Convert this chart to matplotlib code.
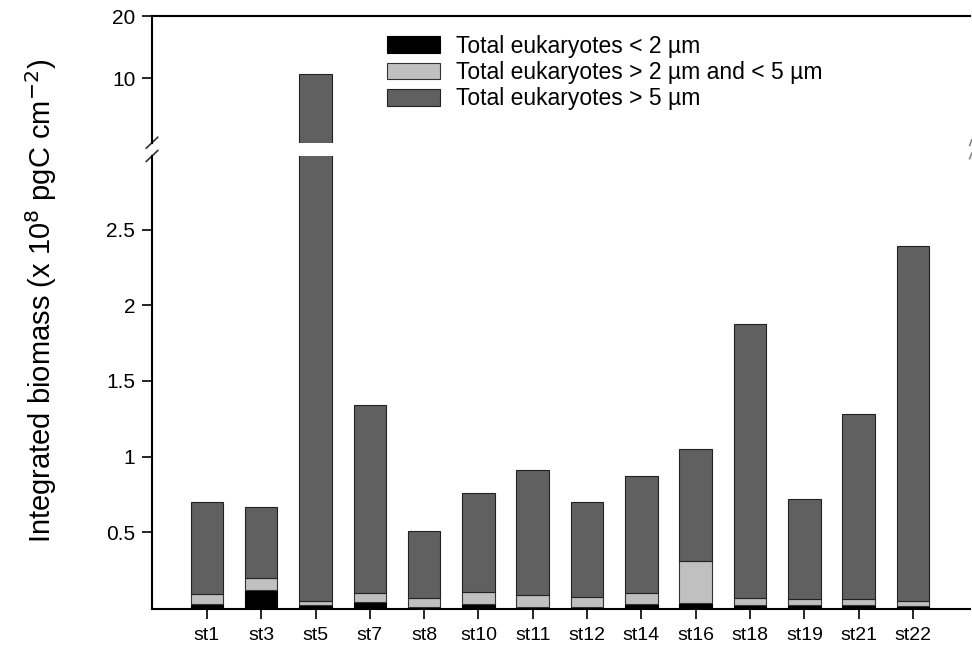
import matplotlib
matplotlib.use('Agg')
from matplotlib import pyplot as plt
from matplotlib.ticker import NullLocator
import numpy as np

plt.rcParams['font.family'] = ['Liberation Sans', 'DejaVu Sans']

stations = ['st1', 'st3', 'st5', 'st7', 'st8', 'st10', 'st11', 'st12',
            'st14', 'st16', 'st18', 'st19', 'st21', 'st22']
# biomass (x 10^8 pgC cm-2) per size class
small = [0.025, 0.12, 0.02, 0.04, 0.005, 0.025, 0.005, 0.005,
         0.025, 0.03, 0.02, 0.02, 0.02, 0.01]          # < 2 um
middle = [0.067, 0.08, 0.025, 0.06, 0.063, 0.08, 0.081, 0.068,
          0.073, 0.28, 0.045, 0.04, 0.04, 0.038]       # 2 - 5 um
large = [0.608, 0.47, 10.405, 1.24, 0.442, 0.655, 0.824, 0.627,
         0.772, 0.74, 1.81, 0.66, 1.22, 2.342]         # > 5 um

labels = ['Total eukaryotes < 2 \u00b5m',
          'Total eukaryotes > 2 \u00b5m and < 5 \u00b5m',
          'Total eukaryotes > 5 \u00b5m']
colors = ['#000000', '#c0c0c0', '#606060']

fig = plt.figure(figsize=(9.72, 6.57), dpi=100)
ax_low = fig.add_axes([0.1564, 0.0731, 0.8416, 0.6895])
ax_up = fig.add_axes([0.1564, 0.7828, 0.8416, 0.1928])

x = np.arange(len(stations))
small = np.array(small)
middle = np.array(middle)
large = np.array(large)

bars = []
for ax in (ax_low, ax_up):
    b1 = ax.bar(x, small, 0.6, color=colors[0], edgecolor='black', linewidth=0.8)
    b2 = ax.bar(x, middle, 0.6, bottom=small, color=colors[1], edgecolor='#333333', linewidth=0.8)
    b3 = ax.bar(x, large, 0.6, bottom=small + middle, color=colors[2], edgecolor='#222222', linewidth=0.8)
    bars = [b1, b2, b3]
    ax.set_xlim(-1.01, 14.05)
    ax.spines['right'].set_visible(False)
    ax.tick_params(direction='out', length=7, width=1.2, labelsize=15, pad=5)
    for s in ax.spines.values():
        s.set_linewidth(1.5)

ax_low.set_ylim(-0.007, 2.987)
ax_low.set_yticks([0.5, 1, 1.5, 2, 2.5])
ax_low.set_yticklabels(['0.5', '1', '1.5', '2', '2.5'])
ax_low.spines['top'].set_visible(False)
ax_low.set_xticks(x)
ax_low.set_xticklabels(stations, fontsize=14)
ax_low.tick_params(axis='x', pad=6)

# upper part of the broken axis uses a compressed (log) scale
ax_up.set_yscale('log')
ax_up.set_ylim(4.9, 20)
ax_up.set_yticks([10, 20])
ax_up.set_yticklabels(['10', '20'])
ax_up.yaxis.set_minor_locator(NullLocator())
ax_up.spines['bottom'].set_visible(False)
ax_up.set_xticks([])

# break marks on the left spine
for ax, h in ((ax_up, 0.043), (ax_low, 0.012)):
    yy = 0.0 if ax is ax_up else 1.0
    ax.plot([-0.007, 0.007], [yy - h, yy + h],
            transform=ax.transAxes, color='#333333', lw=1.2, clip_on=False)
    ax.plot([0.9995, 1.002], [yy - h / 2, yy + h / 2],
            transform=ax.transAxes, color='#888888', lw=1.2, clip_on=False)

fig.text(0.042, 0.542, 'Integrated biomass (x 10$^{8}$ pgC cm$^{-2}$)',
         rotation=90, ha='center', va='center', fontsize=21)

fig.legend(bars, labels, loc='upper left', bbox_to_anchor=(0.389, 0.961),
           frameon=False, fontsize=16.5, handlelength=2.3, handleheight=0.75,
           handletextpad=0.72, labelspacing=0.14, borderaxespad=0)

fig.savefig('out.png', dpi=100)
